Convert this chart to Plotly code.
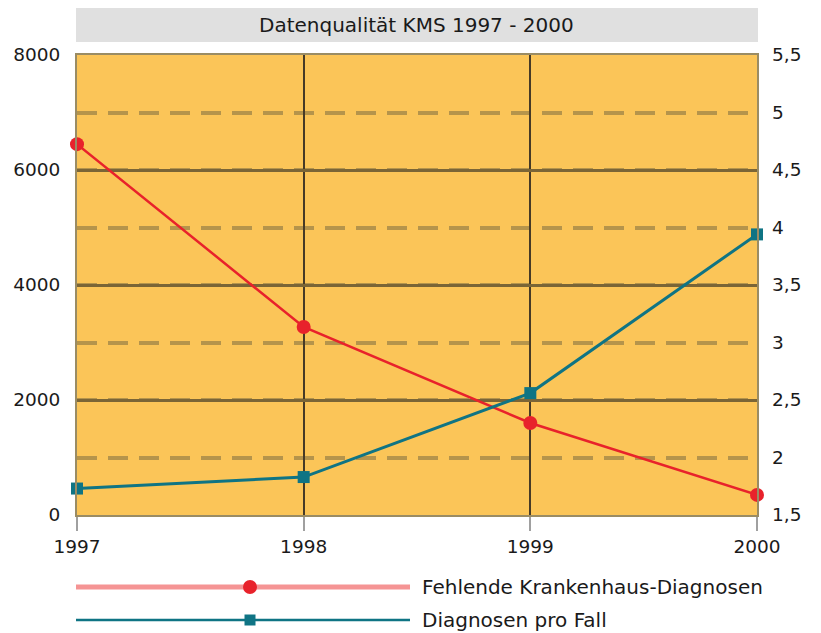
import plotly.graph_objects as go

years = [1997, 1998, 1999, 2000]
fehlende = [6450, 3270, 1600, 350]
diag_pro_fall = [1.73, 1.83, 2.56, 3.94]

left_ticks = [0, 2000, 4000, 6000, 8000]
left_ticktext = ["0", "2000", "4000", "6000", "8000"]
right_ticks = [1.5, 2, 2.5, 3, 3.5, 4, 4.5, 5, 5.5]
right_ticktext = ["1,5", "2", "2,5", "3", "3,5", "4", "4,5", "5", "5,5"]
x_ticktext = ["1997", "1998", "1999", "2000"]

title_text = "Datenqualität KMS 1997 - 2000"
legend_names = ["Fehlende Krankenhaus-Diagnosen", "Diagnosen pro Fall"]

RED = "#E8222B"
TEAL = "#0F7484"
BG = "#FBC558"
FONT = "DejaVu Sans, Verdana, sans-serif"

W, H = 821, 633
L, R, T, B = 77, 64, 55, 118
pw, ph = W - L - R, H - T - B

def px_x(p):
    return (p - L) / pw

def px_y(p):
    return (H - B - p) / ph

fig = go.Figure()
fig.add_trace(go.Scatter(x=years, y=fehlende, mode="lines+markers", name=legend_names[0],
                         line=dict(color=RED, width=2.5),
                         marker=dict(symbol="circle", size=14, color=RED),
                         yaxis="y", showlegend=False, cliponaxis=False))
fig.add_trace(go.Scatter(x=years, y=diag_pro_fall, mode="lines+markers", name=legend_names[1],
                         line=dict(color=TEAL, width=3),
                         marker=dict(symbol="square", size=12, color=TEAL),
                         yaxis="y2", showlegend=False, cliponaxis=False))

fig.update_layout(
    width=W, height=H,
    margin=dict(l=L, r=R, t=T, b=B),
    paper_bgcolor="white",
    plot_bgcolor=BG,
    font=dict(family=FONT, size=18, color="#1a1a1a"),
    showlegend=False,
    xaxis=dict(range=[1997, 2000], tickvals=years, ticktext=x_ticktext,
               showgrid=True, gridcolor="#463a26", gridwidth=2,
               ticks="outside", ticklen=14, tickcolor="#a0a0a0", tickwidth=1.5,
               showline=True, linecolor="#9a8c64", linewidth=2, mirror=True,
               zeroline=False, tickfont=dict(size=18.5)),
    yaxis=dict(range=[0, 8000], tickvals=left_ticks, ticktext=left_ticktext,
               showgrid=True, gridcolor="#7a6536", gridwidth=2.5,
               minor=dict(dtick=1000, showgrid=True, gridcolor="#B5944B",
                          gridwidth=4, griddash="20px,11px"),
               zeroline=False, ticks="", ticklabelstandoff=11,
               showline=True, linecolor="#9a8c64", linewidth=2, mirror=True,
               tickfont=dict(size=18.5)),
    yaxis2=dict(range=[1.5, 5.5], tickvals=right_ticks, ticktext=right_ticktext,
                overlaying="y", side="right", showgrid=False, zeroline=False,
                ticks="", ticklabelstandoff=14, tickfont=dict(size=18.5)),
)

# title bar
fig.add_shape(type="rect", xref="paper", yref="paper",
              x0=px_x(76), x1=px_x(758), y0=px_y(42), y1=px_y(8),
              fillcolor="#E0E0E0", line=dict(width=0), layer="below")
fig.add_annotation(text=title_text, xref="paper", yref="paper",
                   x=px_x(416), y=px_y(25), showarrow=False,
                   font=dict(size=20, color="#1a1a1a"), xanchor="center", yanchor="middle")

# custom legend
legend_rows = [(587, "#F59494", 5, "circle", RED, 14), (620, TEAL, 2.5, "square", TEAL, 11)]
for (py, lcol, lw, sym, mcol, msz), name in zip(legend_rows, legend_names):
    fig.add_shape(type="line", xref="paper", yref="paper",
                  x0=px_x(76), x1=px_x(410), y0=px_y(py), y1=px_y(py),
                  line=dict(color=lcol, width=lw))
    shape_type = "circle" if sym == "circle" else "rect"
    fig.add_shape(type=shape_type, xref="paper", yref="paper",
                  xsizemode="pixel", ysizemode="pixel",
                  xanchor=px_x(250), yanchor=px_y(py),
                  x0=-msz / 2, x1=msz / 2, y0=-msz / 2, y1=msz / 2,
                  fillcolor=mcol, line=dict(width=0))
    fig.add_annotation(text=name, xref="paper", yref="paper",
                       x=px_x(420), y=px_y(py), showarrow=False,
                       xanchor="left", yanchor="middle",
                       font=dict(size=20, color="#1a1a1a"))

fig.write_html("out.html", config={"displayModeBar": False},
               post_script="document.body.style.margin='0';document.body.style.overflow='hidden';")
